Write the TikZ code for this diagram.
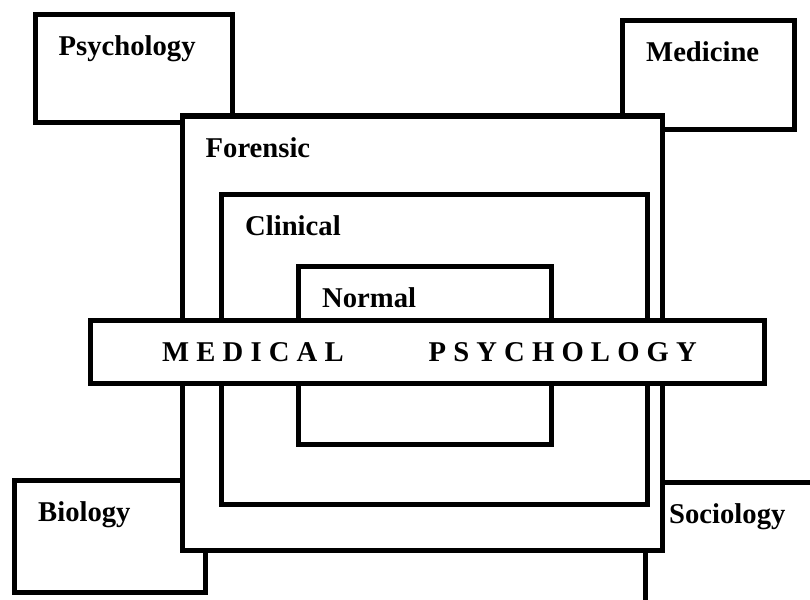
\documentclass[tikz,border=0pt]{standalone}
\usepackage{fontspec}
\setmainfont{Liberation Serif}
\tikzset{
  frame/.style = {draw, line width=5pt, fill=white, rectangle,
                  inner sep=0pt, outer sep=0pt},
  tag/.style   = {font=\bfseries\fontsize{28.65}{30}\selectfont,
                  inner sep=0pt, anchor=base west}
}

\begin{document}
\begin{tikzpicture}[x=1pt, y=-1pt]
\useasboundingbox (0,0) rectangle (810,599);
\clip (0,0) rectangle (810,599);

% the four outer fields, partly hidden behind the big frame
\node[frame, minimum width=197.5pt, minimum height=107.5pt] (psy) at (133.75,68.75) {};
\node[frame, minimum width=172pt, minimum height=108pt] (med) at (708.5,75) {};
\node[frame, minimum width=191pt, minimum height=112pt] (bio) at (110,536.5) {};
\node[frame, minimum width=230pt, minimum height=160pt] (soc) at (760.5,562) {};

% the nested frames
\node[frame, minimum width=480.5pt, minimum height=434.5pt] (foren) at (422.25,333.25) {};
\node[frame, minimum width=426pt, minimum height=310.5pt] (clin) at (434.5,349.25) {};
\node[frame, minimum width=253pt, minimum height=178pt] (norm) at (425,355.5) {};

% the band across the middle
\node[frame, minimum width=674pt, minimum height=63pt] (band) at (427.5,352) {};
\node[tag] (bandtxt) at (162,361)
  {M E D I C A L\hspace{85pt}P S Y C H O L O G Y};

% a label in the top left corner of every frame
\foreach \nm/\txt in {psy/Psychology, med/Medicine, bio/Biology, soc/Sociology,
                      foren/Forensic, clin/Clinical, norm/Normal}
  \node[tag] (\nm txt) at ([shift={(23.5,41)}]\nm.north west) {\txt};
\end{tikzpicture}
\end{document}
